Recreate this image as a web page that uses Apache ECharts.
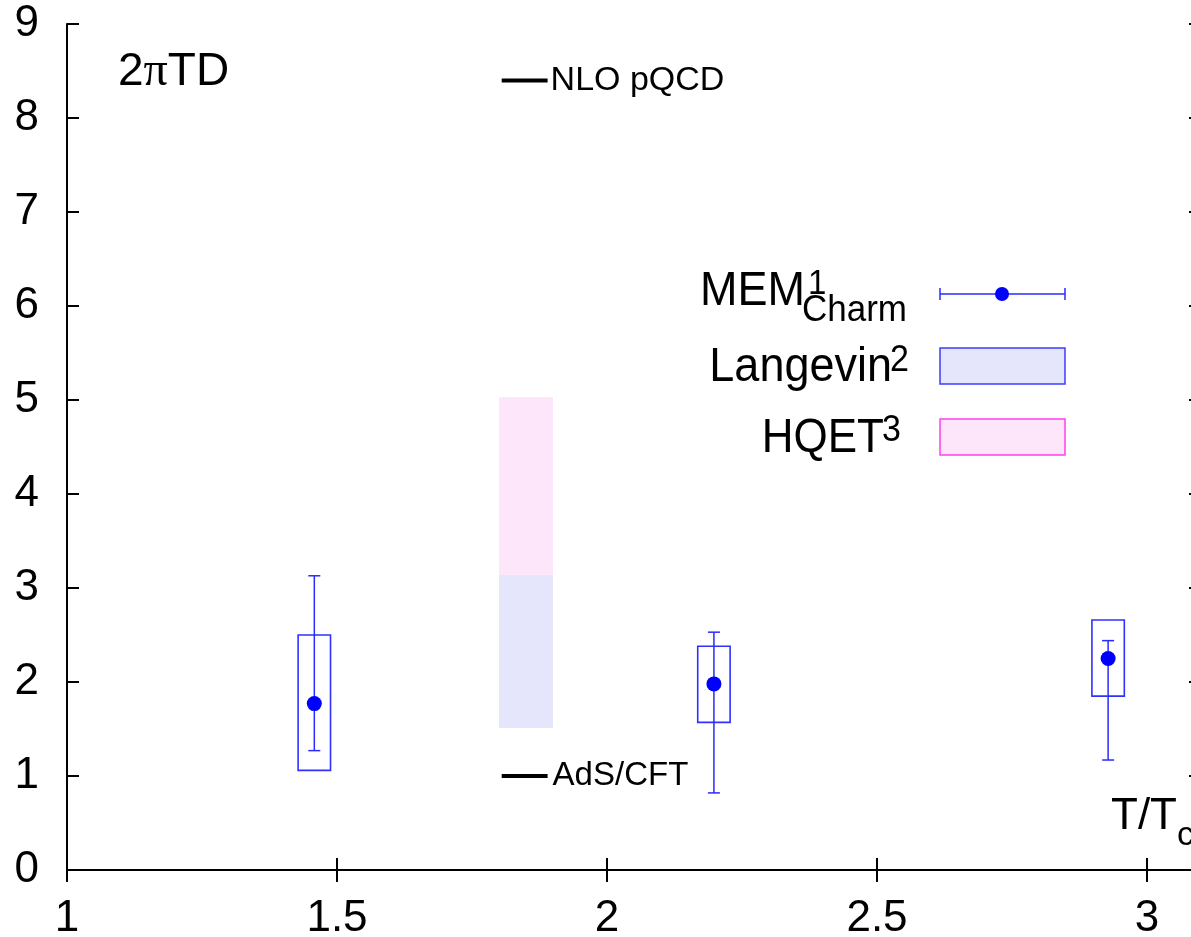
<!DOCTYPE html>
<html>
<head>
<meta charset="utf-8">
<title>2πTD vs T/Tc</title>
<script src="https://cdn.jsdelivr.net/npm/echarts@6/dist/echarts.min.js"></script>
<style>
  html, body { margin: 0; padding: 0; background: #fff; overflow: hidden; }
  #chart { width: 1191px; height: 937px; }
</style>
</head>
<body>
<div id="chart"></div>
<script>
// MEM (charm) results: temperature, central value, error bar and systematic box
const tOverTc     = [1.458, 2.198, 2.928];
const memCentral  = [1.77, 1.98, 2.25];
const memErrLow   = [1.27, 0.82, 1.17];
const memErrHigh  = [3.13, 2.53, 2.44];
const memBoxLow   = [1.06, 1.57, 1.85];
const memBoxHigh  = [2.50, 2.38, 2.66];

// Langevin and HQET bands at T/Tc ~ 1.8-1.9
const bandT          = [1.8, 1.9];
const langevinRange  = [1.51, 3.14];
const hqetRange      = [3.14, 5.03];

// Reference values drawn as short dashes
const refLineT = [1.805, 1.89];
const nloPqcd  = 8.4;
const adsCft   = 1.0;

// Axis ranges
const xRange = [1, 3.1];
const xStep  = 0.5;
const yRange = [0, 9];
const yStep  = 1;

const FONT = "'Liberation Sans', Arial, Helvetica, sans-serif";
const BLUE = '#0000ff';
const BAND_BLUE = '#e5e5fb';
const BAND_PINK = '#fde5fa';

const chart = echarts.init(document.getElementById('chart'), null, { renderer: 'canvas' });

const memData = tOverTc.map((t, i) => [t, memCentral[i], memErrLow[i], memErrHigh[i], memBoxLow[i], memBoxHigh[i]]);
const bandData = [
  [bandT[0], bandT[1], langevinRange[0], langevinRange[1], BAND_BLUE],
  [bandT[0], bandT[1], hqetRange[0], hqetRange[1], BAND_PINK]
];

function xLabel(v) {
  const k = v / xStep;
  return Math.abs(k - Math.round(k)) < 1e-6 ? String(+v.toFixed(2)) : '';
}

const axisLine = { show: true, lineStyle: { color: '#000', width: 2 } };
const axisTick = { show: true, inside: true, length: 12, lineStyle: { color: '#000', width: 2 } };

// legend text, slightly tall
function legendText(x, y, text, size, align) {
  return {
    type: 'text', z: 10, x, y, scaleY: 1.08,
    style: { x: 0, y: 0, text, font: `${size}px ${FONT}`, fill: '#000', align, verticalAlign: 'middle' }
  };
}

const option = {
  animation: false,
  backgroundColor: '#fff',
  // the frame runs a little past the right edge of the canvas
  grid: { left: 67, right: -10, top: 24, bottom: 67, containLabel: false, outerBoundsMode: 'none' },
  xAxis: [
    {
      type: 'value', min: xRange[0], max: xRange[1], interval: xStep, position: 'bottom',
      axisLine, axisTick, splitLine: { show: false },
      axisLabel: { fontSize: 44, color: '#000', fontFamily: FONT, margin: 27, formatter: xLabel }
    },
    {
      type: 'value', min: xRange[0], max: xRange[1], interval: xStep, position: 'top',
      axisLine, axisTick, splitLine: { show: false }, axisLabel: { show: false }
    }
  ],
  yAxis: [
    {
      type: 'value', min: yRange[0], max: yRange[1], interval: yStep, position: 'left',
      axisLine, axisTick, splitLine: { show: false },
      axisLabel: { fontSize: 44, color: '#000', fontFamily: FONT, margin: 28 }
    },
    {
      type: 'value', min: yRange[0], max: yRange[1], interval: yStep, position: 'right',
      axisLine, axisTick, splitLine: { show: false }, axisLabel: { show: false }
    }
  ],
  series: [
    {
      name: 'bands',
      type: 'custom',
      xAxisIndex: 0, yAxisIndex: 0,
      data: bandData,
      encode: { x: [0, 1], y: [2, 3] },
      renderItem(params, api) {
        const tl = api.coord([api.value(0), api.value(3)]);
        const br = api.coord([api.value(1), api.value(2)]);
        return {
          type: 'rect',
          shape: { x: tl[0], y: tl[1], width: br[0] - tl[0], height: br[1] - tl[1] },
          style: { fill: bandData[params.dataIndex][4] }
        };
      },
      z: 1
    },
    {
      name: 'NLO pQCD',
      type: 'line',
      data: [[refLineT[0], nloPqcd], [refLineT[1], nloPqcd]],
      symbol: 'none',
      lineStyle: { color: '#000', width: 4, cap: 'butt' },
      endLabel: { show: true, formatter: 'NLO pQCD', fontSize: 34, fontFamily: FONT, color: '#000', distance: 3 },
      z: 3
    },
    {
      name: 'AdS/CFT',
      type: 'line',
      data: [[refLineT[0], adsCft], [refLineT[1], adsCft]],
      symbol: 'none',
      lineStyle: { color: '#000', width: 4, cap: 'butt' },
      endLabel: { show: true, formatter: 'AdS/CFT', fontSize: 33, fontFamily: FONT, color: '#000', distance: 5 },
      z: 3
    },
    {
      name: 'MEM',
      type: 'custom',
      data: memData,
      encode: { x: 0, y: [1, 2, 3, 4, 5] },
      renderItem(params, api) {
        const t = api.value(0);
        const halfW = 0.03;
        const c = api.coord([t, api.value(1)]);
        const eLo = api.coord([t, api.value(2)]);
        const eHi = api.coord([t, api.value(3)]);
        const bTL = api.coord([t - halfW, api.value(5)]);
        const bBR = api.coord([t + halfW, api.value(4)]);
        const lineStyle = { stroke: '#2a2aff', lineWidth: 1.5, fill: null };
        const cap = 6;
        return {
          type: 'group',
          children: [
            { type: 'rect', shape: { x: bTL[0], y: bTL[1], width: bBR[0] - bTL[0], height: bBR[1] - bTL[1] },
              style: { stroke: '#3030ff', lineWidth: 1.6, fill: null } },
            { type: 'line', shape: { x1: c[0], y1: eLo[1], x2: c[0], y2: eHi[1] }, style: lineStyle },
            { type: 'line', shape: { x1: c[0] - cap, y1: eLo[1], x2: c[0] + cap, y2: eLo[1] }, style: lineStyle },
            { type: 'line', shape: { x1: c[0] - cap, y1: eHi[1], x2: c[0] + cap, y2: eHi[1] }, style: lineStyle },
            { type: 'circle', shape: { cx: c[0], cy: c[1], r: 7.5 }, style: { fill: BLUE } }
          ]
        };
      },
      z: 4
    }
  ],
  graphic: [
    // panel title
    {
      type: 'text', z: 10, x: 118, y: 72,
      style: {
        x: 0, y: 0, verticalAlign: 'middle',
        text: '2{p|π}TD', font: `46px ${FONT}`, fill: '#000',
        rich: { p: { fontFamily: "'Liberation Serif', serif", fontSize: 48, fill: '#000' } }
      }
    },
    // axis title
    { type: 'text', z: 10, style: { x: 1111, y: 817, text: 'T/T', font: `44px ${FONT}`, fill: '#000', verticalAlign: 'middle' } },
    { type: 'text', z: 10, style: { x: 1177, y: 836, text: 'c', font: `34px ${FONT}`, fill: '#000', verticalAlign: 'middle' } },

    // legend: MEM
    legendText(805, 292, 'MEM', 45, 'right'),
    legendText(808, 284, '1', 33, 'left'),
    legendText(802, 311, 'Charm', 35, 'left'),
    { type: 'line', z: 10, shape: { x1: 940, y1: 294, x2: 1065, y2: 294 }, style: { stroke: '#2a2aff', lineWidth: 1.5 } },
    { type: 'line', z: 10, shape: { x1: 940, y1: 288, x2: 940, y2: 300 }, style: { stroke: '#2a2aff', lineWidth: 1.5 } },
    { type: 'line', z: 10, shape: { x1: 1065, y1: 288, x2: 1065, y2: 300 }, style: { stroke: '#2a2aff', lineWidth: 1.5 } },
    { type: 'circle', z: 10, shape: { cx: 1002, cy: 294, r: 7 }, style: { fill: BLUE } },

    // legend: Langevin
    legendText(892, 368, 'Langevin', 45, 'right'),
    legendText(890, 361, '2', 34, 'left'),
    { type: 'rect', z: 10, shape: { x: 940, y: 348, width: 125, height: 36 }, style: { fill: BAND_BLUE, stroke: '#3c3cff', lineWidth: 1.5 } },

    // legend: HQET
    legendText(884, 439, 'HQET', 44, 'right'),
    legendText(882, 431, '3', 34, 'left'),
    { type: 'rect', z: 10, shape: { x: 940, y: 419, width: 125, height: 36 }, style: { fill: BAND_PINK, stroke: '#ff40f0', lineWidth: 1.5 } }
  ]
};

chart.setOption(option);
</script>
</body>
</html>
